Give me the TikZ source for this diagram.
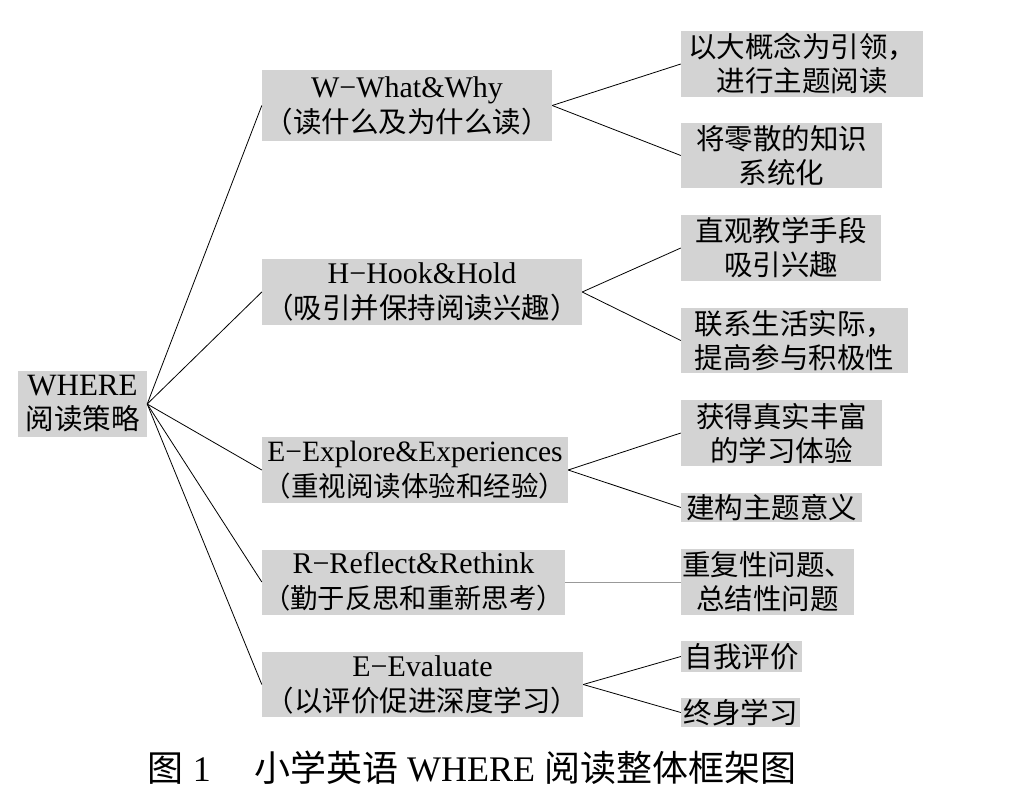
\documentclass[tikz,border=0pt]{standalone}
\usepackage{fontspec}
\setmainfont{Liberation Serif}
\newfontfamily\cjk{Noto Sans CJK SC}
\definecolor{boxgray}{HTML}{D3D3D3}
\begin{document}
\begin{tikzpicture}[x={(1pt,0)},y={(0,-1pt)},
  box/.style={fill=boxgray, inner sep=0pt, align=center, font=\fontsize{28.5}{34}\selectfont},
  mid/.style={box, font=\fontsize{30}{35}\selectfont},
  link/.style={line width=0.8pt, black},
  glink/.style={line width=0.9pt, black!40}]
\useasboundingbox (0,0) rectangle (1025,802);
\newcommand\zh[2][28.5]{{\cjk\fontsize{#1}{35}\selectfont #2}}
% root
\node[box, minimum width=129pt, minimum height=66pt] (root) at (82.5,404) {\fontsize{31}{34}\selectfont WHERE\\\zh{阅读策略}};
% middle column
\node[mid, minimum width=290pt, minimum height=71pt] (w) at (407,105.5) {W−What\&Why\\\zh{（读什么及为什么读）}};
\node[mid, minimum width=320pt, minimum height=66pt] (h) at (422,292) {H−Hook\&Hold\\\zh{（吸引并保持阅读兴趣）}};
\node[mid, minimum width=306pt, minimum height=66pt] (e) at (415,470) {\fontsize{29.5}{35}\selectfont E−Explore\&Experiences\\\zh[27.5]{（重视阅读体验和经验）}};
\node[mid, minimum width=303pt, minimum height=65pt] (r) at (413.5,582) {R−Reflect\&Rethink\\\zh[27.3]{（勤于反思和重新思考）}};
\node[mid, minimum width=321pt, minimum height=65pt] (ev) at (422.5,684.5) {E−Evaluate\\\zh{（以评价促进深度学习）}};
% right column
\node[box, minimum width=242pt, minimum height=66pt] (w1) at (802,64) {\cjk 以大概念为引领，\\\cjk 进行主题阅读};
\node[box, minimum width=201pt, minimum height=65pt] (w2) at (781.5,155.5) {\cjk 将零散的知识\\\cjk 系统化};
\node[box, minimum width=200pt, minimum height=66pt] (h1) at (781,248) {\cjk 直观教学手段\\\cjk 吸引兴趣};
\node[box, minimum width=227pt, minimum height=65pt] (h2) at (794.5,340.5) {\cjk 联系生活实际，\\\cjk 提高参与积极性};
\node[box, minimum width=201pt, minimum height=66pt] (e1) at (781.5,433) {\cjk 获得真实丰富\\\cjk 的学习体验};
\node[box, minimum width=181pt, minimum height=29pt] (e2) at (771.5,507.5) {\cjk 建构主题意义};
\node[box, minimum width=173pt, minimum height=66pt] (r1) at (767.5,582) {\cjk 重复性问题、\\\cjk 总结性问题};
\node[box, minimum width=121pt, minimum height=31pt] (ev1) at (741.5,656.5) {\cjk 自我评价};
\node[box, minimum width=119pt, minimum height=29pt] (ev2) at (740.5,712.5) {\cjk 终身学习};
% caption
\node[font=\fontsize{36}{38}\selectfont, inner sep=0pt] (cap) at (472,768) {{\cjk 图} 1\hspace{1.2em}{\cjk 小学英语} WHERE {\cjk 阅读整体框架图}};
% connectors
\foreach \t in {w,h,e,r,ev} \draw[link] (root.east) -- (\t.west);
\draw[link] (w.east) -- (w1.west);
\draw[link] (w.east) -- (w2.west);
\draw[link] (h.east) -- (h1.west);
\draw[link] (h.east) -- (h2.west);
\draw[link] (e.east) -- (e1.west);
\draw[link] (e.east) -- (e2.west);
\draw[glink] (r.east) -- (r1.west);
\draw[link] (ev.east) -- (ev1.west);
\draw[link] (ev.east) -- (ev2.west);
\end{tikzpicture}
\end{document}
